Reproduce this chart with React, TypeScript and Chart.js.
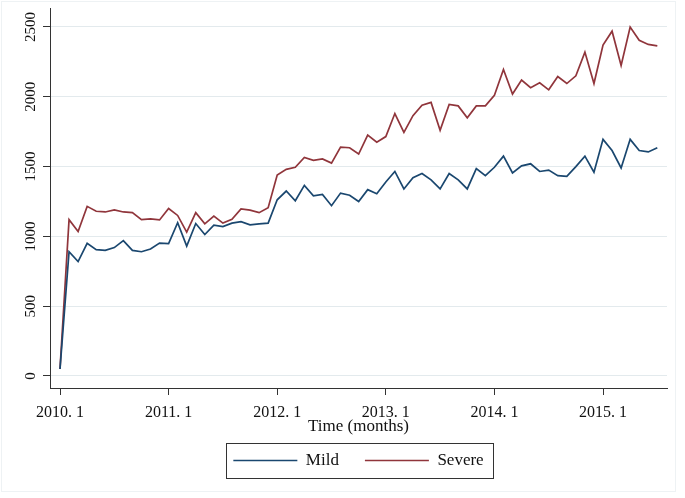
import { useEffect, useRef } from "react"
import { Chart, registerables } from "chart.js"

Chart.register(...registerables)

// monthly counts, 2010.1 .. 2015.7 (67 months)
const mild = [
  50, 890, 820, 950, 905, 900, 920, 970, 900, 890, 910, 952,
  948, 1098, 930, 1092, 1013, 1080, 1070, 1095, 1105, 1083, 1090, 1095,
  1262, 1325, 1255, 1365, 1290, 1300, 1220, 1310, 1295, 1250, 1335, 1305,
  1390, 1465, 1340, 1420, 1450, 1405, 1340, 1450, 1405, 1340, 1485, 1435,
  1495, 1575, 1455, 1505, 1520, 1465, 1475, 1435, 1430, 1500, 1575, 1460,
  1695, 1615, 1490, 1695, 1615, 1605, 1635,
]
const severe = [
  50, 1120, 1035, 1215, 1180, 1175, 1190, 1175, 1170, 1120, 1125, 1118,
  1200, 1150, 1030, 1170, 1090, 1145, 1095, 1122, 1197, 1188, 1170, 1205,
  1440, 1480, 1495, 1565, 1545, 1555, 1525, 1640, 1635, 1590, 1725, 1675,
  1715, 1880, 1745, 1865, 1940, 1960, 1760, 1945, 1935, 1850, 1935, 1935,
  2010, 2195, 2020, 2120, 2065, 2100, 2050, 2145, 2095, 2150, 2320, 2095,
  2370, 2470, 2225, 2500, 2405, 2375, 2365,
]
const seriesNames = ["Mild", "Severe"]
const yTicks = [0, 500, 1000, 1500, 2000, 2500]
const xTickMonths = [0, 12, 24, 36, 48, 60]
const xTickLabels = ["2010. 1", "2011. 1", "2012. 1", "2013. 1", "2014. 1", "2015. 1"]

const serif = "'Liberation Serif', 'Times New Roman', serif"

const frameAndLegendBox = {
  id: "frameAndLegendBox",
  beforeDraw(chart: any) {
    const { ctx, width, height } = chart
    ctx.save()
    ctx.fillStyle = "#ffffff"
    ctx.fillRect(0, 0, width, height)
    ctx.strokeStyle = "#eef2f4"
    ctx.lineWidth = 1
    ctx.strokeRect(1.5, 1.5, 674, 490)
    ctx.restore()
  },
  afterDraw(chart: any) {
    const boxes = chart.legend?.legendHitBoxes
    if (!boxes || !boxes.length) return
    const left = Math.min(...boxes.map((b: any) => b.left)) - 7
    const right = Math.max(...boxes.map((b: any) => b.left + b.width)) + 10
    const top = Math.min(...boxes.map((b: any) => b.top)) - 9
    const bottom = Math.max(...boxes.map((b: any) => b.top + b.height)) + 9
    const { ctx } = chart
    ctx.save()
    ctx.strokeStyle = "#333333"
    ctx.lineWidth = 1
    ctx.strokeRect(Math.round(left) + 0.5, Math.round(top) + 0.5, Math.round(right - left), Math.round(bottom - top))
    ctx.restore()
  },
}

export default function App() {
  const chartRef = useRef<HTMLCanvasElement>(null)
  const chartInstance = useRef<Chart | null>(null)

  useEffect(() => {
    if (!chartRef.current) return
    if (chartInstance.current) chartInstance.current.destroy()
    const ctx = chartRef.current.getContext("2d")
    if (!ctx) return

    chartInstance.current = new Chart(ctx, {
      type: "line",
      data: {
        datasets: [
          {
            label: seriesNames[0],
            data: mild.map((v, i) => ({ x: i, y: v })),
            borderColor: "#1a476f",
            backgroundColor: "#1a476f",
            borderWidth: 1.7,
            pointRadius: 0,
            tension: 0,
          },
          {
            label: seriesNames[1],
            data: severe.map((v, i) => ({ x: i, y: v })),
            borderColor: "#90353b",
            backgroundColor: "#90353b",
            borderWidth: 1.7,
            pointRadius: 0,
            tension: 0,
          },
        ],
      },
      options: {
        animation: false,
        responsive: true,
        maintainAspectRatio: false,
        layout: { padding: { top: 8, left: 8, right: 18, bottom: 19 } },
        plugins: {
          tooltip: { enabled: false },
          legend: {
            position: "bottom",
            fullSize: false,
            labels: {
              usePointStyle: true,
              pointStyle: "line",
              pointStyleWidth: 64,
              padding: 26,
              color: "#111111",
              font: { family: serif, size: 17 },
            },
          },
        },
        scales: {
          x: {
            type: "linear",
            min: -1.105,
            max: 67.07,
            afterBuildTicks: (scale: any) => {
              scale.ticks = xTickMonths.map((v) => ({ value: v }))
            },
            afterFit: (scale: any) => {
              scale.height = scale.height - 7
            },
            ticks: {
              autoSkip: false,
              maxRotation: 0,
              padding: 10,
              color: "#111111",
              font: { family: serif, size: 16, lineHeight: 1 },
              callback: (value: any) => {
                const idx = xTickMonths.indexOf(Number(value))
                return idx >= 0 ? xTickLabels[idx] : ""
              },
            },
            grid: {
              display: true,
              drawOnChartArea: false,
              drawTicks: true,
              tickLength: 7,
              tickColor: "#333333",
            },
            border: { display: true, color: "#333333", width: 1 },
            title: {
              display: true,
              text: "Time (months)",
              color: "#111111",
              font: { family: serif, size: 17, lineHeight: 1 },
              padding: { top: -6, bottom: -9 },
            },
          },
          y: {
            type: "linear",
            min: -86,
            max: 2636,
            afterBuildTicks: (scale: any) => {
              scale.ticks = yTicks.map((v) => ({ value: v }))
            },
            afterFit: (scale: any) => {
              scale.width = 42
            },
            ticks: {
              autoSkip: false,
              minRotation: 90,
              maxRotation: 90,
              crossAlign: "center",
              padding: -3,
              color: "#111111",
              font: { family: serif, size: 15 },
              callback: (value: any) => String(value),
            },
            grid: {
              color: "#e3eaed",
              lineWidth: 1,
              tickLength: 7,
              tickColor: "#333333",
            },
            border: { display: true, color: "#333333", width: 1 },
          },
        },
      },
      plugins: [frameAndLegendBox],
    })

    return () => {
      if (chartInstance.current) {
        chartInstance.current.destroy()
        chartInstance.current = null
      }
    }
  }, [])

  return (
    <div style={{ position: "fixed", left: 0, top: 0, width: 685, height: 498, background: "#fff" }}>
      <canvas ref={chartRef}></canvas>
    </div>
  )
}
